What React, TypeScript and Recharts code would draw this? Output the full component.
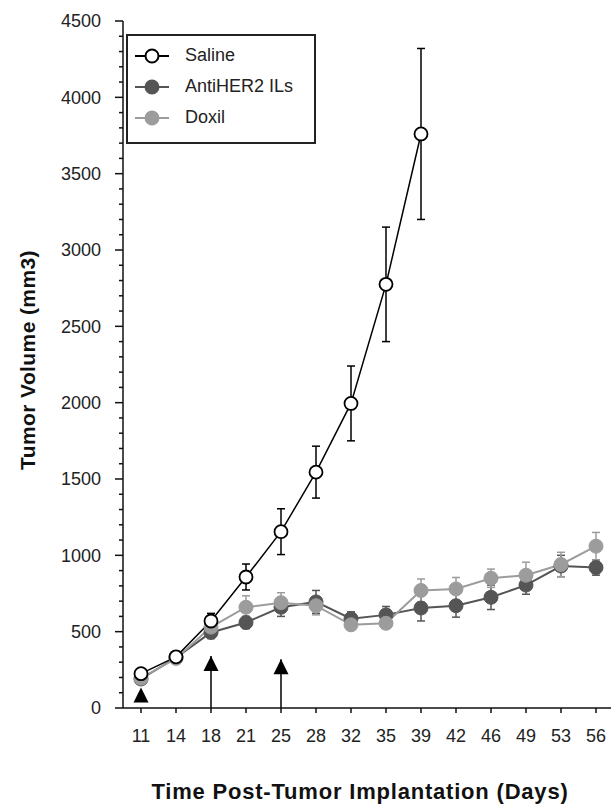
import {
  ComposedChart, Line, XAxis, YAxis, ErrorBar, Legend, ReferenceLine, ReferenceDot,
} from 'recharts';

const days = ['11', '14', '18', '21', '25', '28', '32', '35', '39', '42', '46', '49', '53', '56'];

const saline = [225, 335, 570, 858, 1155, 1545, 1995, 2775, 3760, null, null, null, null, null];
const salineErr = [20, 25, 50, 85, 150, 170, 245, 375, 560, null, null, null, null, null];

const antiHer2 = [190, 330, 495, 560, 660, 695, 585, 610, 655, 670, 725, 805, 930, 920];
const antiHer2Err = [20, 25, 40, 40, 60, 75, 45, 55, 85, 75, 80, 60, 70, 50];

const doxil = [195, 325, 530, 660, 690, 670, 545, 555, 770, 780, 850, 870, 940, 1060];
const doxilErr = [20, 25, 40, 75, 65, 60, 30, 30, 75, 75, 60, 85, 80, 90];

// treatment arrows: day, tip value, with stem or not
const arrowDays = ['11', '18', '25'];
const arrowTips = [135, 340, 320];
const arrowStems = [false, true, true];

const yTicks = Array.from({ length: 46 }, (_, i) => i * 100);

const data = days.map((d, i) => ({
  day: d,
  saline: saline[i],
  salineErr: salineErr[i],
  anti: antiHer2[i],
  antiErr: antiHer2Err[i],
  doxil: doxil[i],
  doxilErr: doxilErr[i],
}));

const ANTI = '#555555';
const DOXIL = '#9c9c9c';
const FONT = '"Liberation Sans", Arial, sans-serif';

const YTick = (props: any) => {
  const { x, y, payload } = props;
  const v = payload.value;
  const major = v % 500 === 0;
  const ax = x + 22;
  return (
    <g>
      <line x1={ax - (major ? 8 : 4)} x2={ax} y1={y} y2={y} stroke="#111" strokeWidth={1.5} />
      {major && (
        <text x={x} y={y} dy="0.35em" textAnchor="end" fontSize={18} fill="#222" fontFamily={FONT}>
          {v}
        </text>
      )}
    </g>
  );
};

const Triangle = (props: any) => {
  const { cx, cy } = props;
  return <path d={`M${cx},${cy} L${cx - 7.5},${cy + 15} L${cx + 7.5},${cy + 15} Z`} fill="#000" />;
};

const legendRows = [
  { name: 'Saline', color: '#000', fill: '#fff' },
  { name: 'AntiHER2 ILs', color: ANTI, fill: ANTI },
  { name: 'Doxil', color: DOXIL, fill: DOXIL },
];

const renderLegend = () => (
  <div style={{ width: 186, height: 106, border: '2px solid #222', background: '#fff', fontFamily: FONT }}>
    {legendRows.map((r, i) => (
      <div key={r.name} style={{ display: 'flex', alignItems: 'center', height: 31, marginTop: i === 0 ? 4 : 0 }}>
        <svg width={50} height={20} style={{ marginLeft: 5 }}>
          <line x1={2} x2={36} y1={10} y2={10} stroke={r.color} strokeWidth={2} />
          <circle cx={19} cy={10} r={6.5} fill={r.fill} stroke={r.color} strokeWidth={2} />
        </svg>
        <span style={{ fontSize: 18, color: '#222', marginLeft: 2 }}>{r.name}</span>
      </div>
    ))}
  </div>
);

export default function App() {
  return (
    <div style={{ position: 'absolute', left: 0, top: 0, width: 611, height: 808, background: '#fff' }}>
      <ComposedChart width={611} height={808} data={data} margin={{ top: 21, right: 0, bottom: 40, left: 43 }}>
        <XAxis
          dataKey="day"
          padding={{ left: 18, right: 15 }}
          tickSize={5}
          tickMargin={16}
          stroke="#111"
          strokeWidth={1.5}
          height={60}
          tick={{ fontSize: 18, fill: '#222', fontFamily: FONT }}
          interval={0}
          label={{
            content: () => (
              <text x={360} y={791} textAnchor="middle" dy="0.35em" fontSize={22} letterSpacing={0.8} fontWeight="bold" fill="#111" fontFamily={FONT}>
                Time Post-Tumor Implantation (Days)
              </text>
            ),
          }}
        />
        <YAxis
          domain={[0, 4500]}
          ticks={yTicks}
          interval={0}
          width={80}
          tickSize={8}
          tickMargin={14}
          tickLine={false}
          stroke="#111"
          strokeWidth={1.5}
          tick={<YTick />}
          label={{
            content: () => (
              <text x={28} y={360} transform="rotate(-90 28 360)" textAnchor="middle" dy="0.35em" fontSize={21} letterSpacing={0.4} fontWeight="bold" fill="#111" fontFamily={FONT}>
                Tumor Volume (mm3)
              </text>
            ),
          }}
        />
        <Legend
          content={renderLegend}
          layout="vertical"
          align="center"
          verticalAlign="middle"
          wrapperStyle={{ left: 126, top: 34, width: 190 }}
        />
        {arrowDays.map((d, i) =>
          arrowStems[i] ? (
            <ReferenceLine key={'s' + d} segment={[{ x: d, y: 0 }, { x: d, y: arrowTips[i] }]} stroke="#000" strokeWidth={1.5} />
          ) : null
        )}
        {arrowDays.map((d, i) => (
          <ReferenceDot key={'t' + d} x={d} y={arrowTips[i]} shape={<Triangle />} />
        ))}
        <Line
          dataKey="anti"
          name="AntiHER2 ILs"
          stroke={ANTI}
          strokeWidth={2}
          dot={{ r: 7, fill: ANTI, stroke: ANTI, strokeWidth: 1 }}
          isAnimationActive={false}
        >
          <ErrorBar dataKey="antiErr" direction="y" width={4} stroke={ANTI} strokeWidth={1.5} />
        </Line>
        <Line
          dataKey="doxil"
          name="Doxil"
          stroke={DOXIL}
          strokeWidth={2}
          dot={{ r: 7, fill: DOXIL, stroke: DOXIL, strokeWidth: 1 }}
          isAnimationActive={false}
        >
          <ErrorBar dataKey="doxilErr" direction="y" width={4} stroke={DOXIL} strokeWidth={1.5} />
        </Line>
        <Line
          dataKey="saline"
          name="Saline"
          stroke="#000"
          strokeWidth={1.5}
          dot={{ r: 6.5, fill: '#fff', stroke: '#000', strokeWidth: 1.8 }}
          isAnimationActive={false}
        >
          <ErrorBar dataKey="salineErr" direction="y" width={4} stroke="#000" strokeWidth={1.5} />
        </Line>
      </ComposedChart>
    </div>
  );
}
